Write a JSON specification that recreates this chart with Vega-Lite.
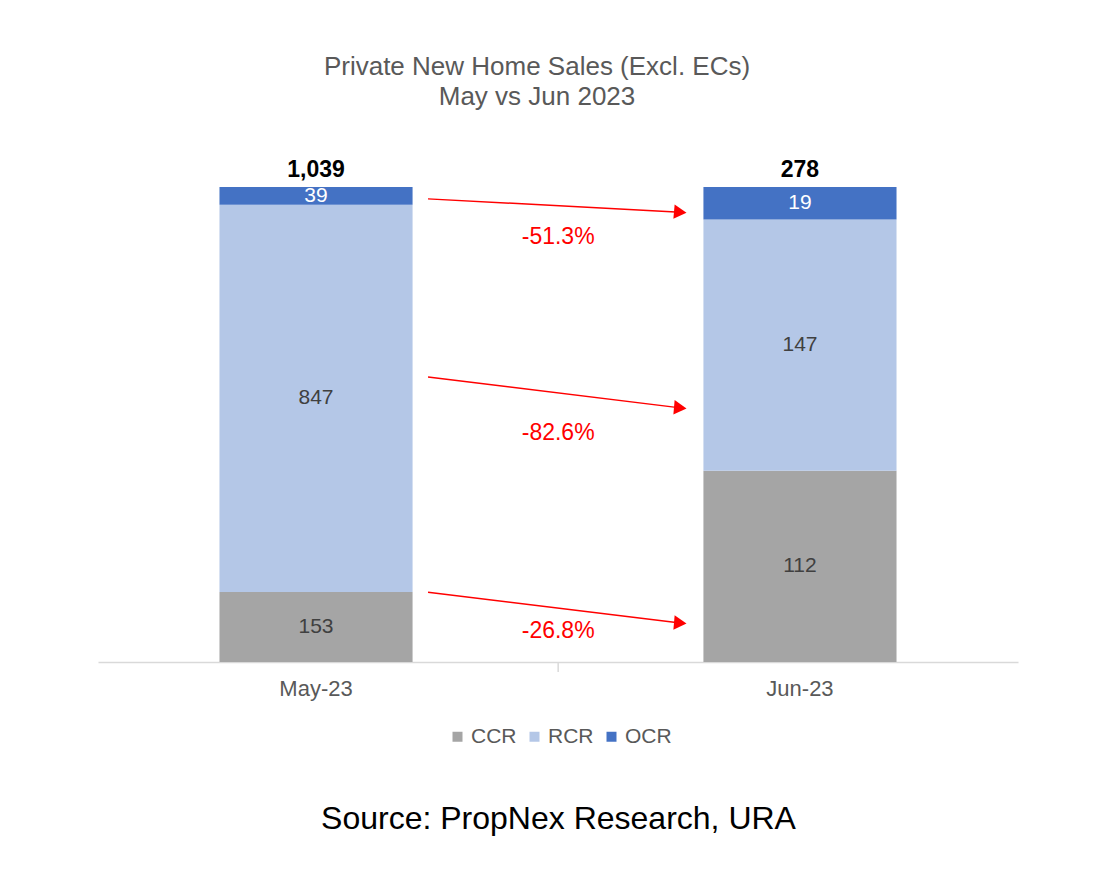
{
  "$schema": "https://vega.github.io/schema/vega-lite/v6.json",
  "autosize": "none",
  "width": 920,
  "height": 475,
  "padding": {"left": 98, "top": 187, "right": 102, "bottom": 214},
  "background": "white",
  "config": {"view": {"stroke": null}, "font": "Liberation Sans"},
  "title": {
    "text": ["Private New Home Sales (Excl. ECs)", "May vs Jun 2023"],
    "fontSize": 26,
    "fontWeight": "normal",
    "color": "#595959",
    "font": "Liberation Sans",
    "lineHeight": 30,
    "anchor": "middle",
    "dx": -21,
    "offset": 49
  },
  "datasets": {
    "sales": [
      {"month": "May-23", "region": "CCR", "o": 1, "value": 153},
      {"month": "May-23", "region": "RCR", "o": 2, "value": 847},
      {"month": "May-23", "region": "OCR", "o": 3, "value": 39},
      {"month": "Jun-23", "region": "CCR", "o": 1, "value": 112},
      {"month": "Jun-23", "region": "RCR", "o": 2, "value": 147},
      {"month": "Jun-23", "region": "OCR", "o": 3, "value": 19}
    ],
    "changes": [
      {"region": "OCR", "from": "May-23", "to": "Jun-23", "from_share": 0.975, "to_share": 0.947, "label": "-51.3%", "label_share": 0.895},
      {"region": "RCR", "from": "May-23", "to": "Jun-23", "from_share": 0.600, "to_share": 0.535, "label": "-82.6%", "label_share": 0.482},
      {"region": "CCR", "from": "May-23", "to": "Jun-23", "from_share": 0.147, "to_share": 0.082, "label": "-26.8%", "label_share": 0.065}
    ],
    "tick": [{"month": "May-23", "a": 0, "b": -0.021}]
  },
  "layer": [
    {
      "data": {"name": "sales"},
      "transform": [
        {"stack": "value", "groupby": ["month"], "sort": [{"field": "o"}], "offset": "normalize", "as": ["y0", "y1"]}
      ],
      "mark": {"type": "bar"},
      "encoding": {
        "x": {
          "field": "month", "type": "nominal", "sort": ["May-23", "Jun-23"],
          "scale": {"domain": ["May-23", "Jun-23"], "paddingInner": 0.601, "paddingOuter": 0.251},
          "axis": {
            "title": "Source: PropNex Research, URA",
            "titleFont": "Liberation Sans",
            "titleFontSize": 32,
            "titleFontWeight": "normal",
            "titleColor": "#000000",
            "titlePadding": 104,
            "labelAngle": 0,
            "labelFontSize": 22,
            "labelColor": "#595959",
            "labelPadding": 16,
            "ticks": false,
            "tickSize": 0,
            "domainColor": "#d9d9d9",
            "domainWidth": 1.5
          }
        },
        "y": {"field": "y0", "type": "quantitative", "scale": {"domain": [0, 1]}, "axis": null},
        "y2": {"field": "y1"},
        "color": {
          "field": "region", "type": "nominal",
          "scale": {"domain": ["CCR", "RCR", "OCR"], "range": ["#a5a5a5", "#b4c7e7", "#4472c4"]},
          "legend": {
            "orient": "none",
            "legendX": 349,
            "legendY": 539,
            "direction": "horizontal",
            "title": null,
            "symbolType": "square",
            "symbolSize": 100,
            "symbolStrokeWidth": 0,
            "labelFontSize": 21,
            "labelColor": "#595959",
            "labelOffset": 3,
            "columnPadding": 7
          }
        }
      }
    },
    {
      "data": {"name": "sales"},
      "transform": [
        {"stack": "value", "groupby": ["month"], "sort": [{"field": "o"}], "offset": "normalize", "as": ["y0", "y1"]},
        {"calculate": "(datum.y0 + datum.y1) / 2", "as": "mid"}
      ],
      "mark": {"type": "text", "fontSize": 21, "baseline": "middle", "align": "center"},
      "encoding": {
        "x": {"field": "month", "type": "nominal", "sort": ["May-23", "Jun-23"]},
        "y": {"field": "mid", "type": "quantitative"},
        "text": {"field": "value", "type": "quantitative"},
        "color": {"condition": {"test": "datum.region === 'OCR'", "value": "#ffffff"}, "value": "#404040"}
      }
    },
    {
      "data": {"name": "sales"},
      "transform": [{"aggregate": [{"op": "sum", "field": "value", "as": "total"}], "groupby": ["month"]}],
      "mark": {"type": "text", "fontSize": 23, "fontWeight": "bold", "baseline": "bottom", "dy": -5, "color": "#000000"},
      "encoding": {
        "x": {"field": "month", "type": "nominal", "sort": ["May-23", "Jun-23"]},
        "y": {"datum": 1, "type": "quantitative"},
        "text": {"field": "total", "type": "quantitative", "format": ","}
      }
    },
    {
      "data": {"name": "changes"},
      "mark": {"type": "rule", "color": "#ff0000", "strokeWidth": 1.5},
      "encoding": {
        "x": {"field": "from", "type": "nominal", "bandPosition": 1.08},
        "x2": {"field": "to", "bandPosition": -0.12},
        "y": {"field": "from_share", "type": "quantitative"},
        "y2": {"field": "to_share"}
      }
    },
    {
      "data": {"name": "changes"},
      "mark": {"type": "point", "shape": "triangle-right", "filled": true, "color": "#ff0000", "size": 210, "angle": 5, "opacity": 1},
      "encoding": {
        "x": {"field": "to", "type": "nominal", "bandPosition": -0.12},
        "y": {"field": "to_share", "type": "quantitative"}
      }
    },
    {
      "data": {"name": "changes"},
      "mark": {"type": "text", "color": "#ff0000", "fontSize": 23, "baseline": "middle", "align": "center"},
      "encoding": {
        "x": {"field": "from", "type": "nominal", "bandPosition": 1.754},
        "y": {"field": "label_share", "type": "quantitative"},
        "text": {"field": "label", "type": "nominal"}
      }
    },
    {
      "data": {"name": "tick"},
      "mark": {"type": "rule", "color": "#d9d9d9", "strokeWidth": 1.5},
      "encoding": {
        "x": {"field": "month", "type": "nominal", "bandPosition": 1.754},
        "y": {"field": "a", "type": "quantitative"},
        "y2": {"field": "b"}
      }
    }
  ]
}
